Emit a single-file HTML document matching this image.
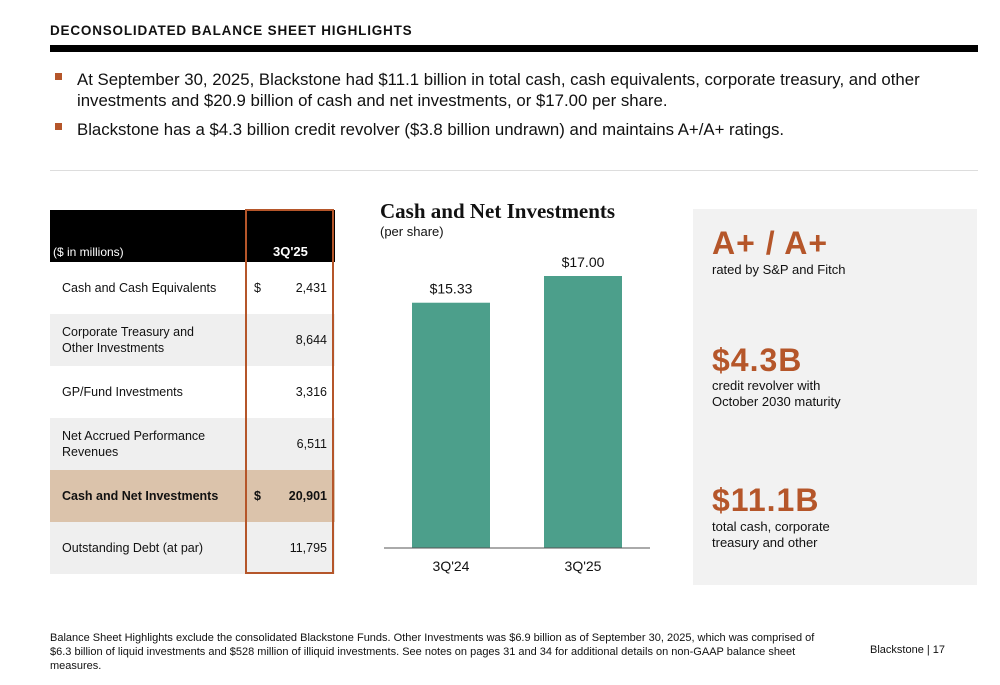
<!DOCTYPE html>
<html><head><meta charset="utf-8"><style>
body{margin:0;width:1000px;height:685px;background:#fff;font-family:"Liberation Sans","DejaVu Sans",sans-serif;color:#111;position:relative;overflow:hidden}
.a{position:absolute}
.row{position:absolute;left:50px;width:285px;height:52px;font-size:12.5px}
.row .l{position:absolute;left:12px;top:0;height:100%;display:flex;align-items:center;line-height:16px}
.row .d{position:absolute;left:204px;top:0;height:100%;display:flex;align-items:center}
.row .v{position:absolute;right:8px;top:0;height:100%;display:flex;align-items:center}
.big{color:#b5562a;font-weight:bold;font-size:32px;letter-spacing:1px}
.sub{font-size:13px;line-height:16px}
</style></head><body>
<div class="a" style="left:50px;top:23px;font-size:13.5px;font-weight:bold;letter-spacing:0.8px">DECONSOLIDATED BALANCE SHEET HIGHLIGHTS</div>
<div class="a" style="left:50px;top:45px;width:928px;height:7px;background:#000"></div>
<div class="a" style="left:55px;top:69px;width:905px;font-size:16.8px;line-height:21px"><span style="position:absolute;left:0;top:4px;width:7px;height:7px;background:#b5562a"></span><div style="margin-left:22px">At September 30, 2025, Blackstone had $11.1 billion in total cash, cash equivalents, corporate treasury, and other investments and $20.9 billion of cash and net investments, or $17.00 per share.</div></div>
<div class="a" style="left:55px;top:119px;width:905px;font-size:16.8px;line-height:21px"><span style="position:absolute;left:0;top:4px;width:7px;height:7px;background:#b5562a"></span><div style="margin-left:22px">Blackstone has a $4.3 billion credit revolver ($3.8 billion undrawn) and maintains A+/A+ ratings.</div></div>
<div class="a" style="left:50px;top:170px;width:928px;height:1px;background:#ddd"></div>

<div>
<div class="a" style="left:50px;top:210px;width:285px;height:52px;background:#000;color:#fff;font-size:12px">
<span class="a" style="left:3px;top:35px">($ in millions)</span><span class="a" style="left:223px;top:34px;font-weight:bold;font-size:13px">3Q'25</span></div>
<div class="row" style="top:262px;background:#fff"><span class="l">Cash and Cash Equivalents</span><span class="d">$</span><span class="v">2,431</span></div>
<div class="row" style="top:314px;background:#efefef"><span class="l">Corporate Treasury and<br>Other Investments</span><span class="v">8,644</span></div>
<div class="row" style="top:366px;background:#fff"><span class="l">GP/Fund Investments</span><span class="v">3,316</span></div>
<div class="row" style="top:418px;background:#efefef"><span class="l">Net Accrued Performance<br>Revenues</span><span class="v">6,511</span></div>
<div class="row" style="top:470px;background:#dbc3ab;font-weight:bold"><span class="l">Cash and Net Investments</span><span class="d">$</span><span class="v">20,901</span></div>
<div class="row" style="top:522px;background:#efefef"><span class="l">Outstanding Debt (at par)</span><span class="v">11,795</span></div>
<div class="a" style="left:245px;top:209px;width:85px;height:361px;border:2px solid #b5562a"></div>
</div>

<div class="a" style="left:380px;top:199px;font-family:'Liberation Serif',serif;font-weight:bold;font-size:21px">Cash and Net Investments</div>
<div class="a" style="left:380px;top:224px;font-size:13px">(per share)</div>
<svg class="a" id="chart" style="left:0;top:0" width="1000" height="685"></svg>

<div class="a" style="left:693px;top:209px;width:284px;height:376px;background:#f2f2f2">
<div class="a big" style="left:19px;top:16px">A+ / A+</div>
<div class="a sub" style="left:19px;top:53px">rated by S&amp;P and Fitch</div>
<div class="a big" style="left:19px;top:133px">$4.3B</div>
<div class="a sub" style="left:19px;top:169px">credit revolver with<br>October 2030 maturity</div>
<div class="a big" style="left:19px;top:273px">$11.1B</div>
<div class="a sub" style="left:19px;top:310px">total cash, corporate<br>treasury and other</div>
</div>

<div class="a" style="left:50px;top:631px;width:776px;font-size:11px;line-height:14px">Balance Sheet Highlights exclude the consolidated Blackstone Funds. Other Investments was $6.9 billion as of September 30, 2025, which was comprised of $6.3 billion of liquid investments and $528 million of illiquid investments. See notes on pages 31 and 34 for additional details on non-GAAP balance sheet measures.</div>
<div class="a" style="left:870px;top:644px;font-size:11px">Blackstone | 17</div>

<script>
const categories=["3Q'24","3Q'25"];
const values=[15.33,17.00];
const valueLabels=["$15.33","$17.00"];
const svg=document.getElementById('chart');
const NS='http://www.w3.org/2000/svg';
const baseY=548, pxPer=16, x0=412, step=132, bw=78;
const y=v=>baseY-v*pxPer;
const xs=i=>x0+i*step;
function mk(t,a){const e=document.createElementNS(NS,t);for(const k in a)e.setAttribute(k,a[k]);svg.appendChild(e);return e;}
categories.forEach((c,i)=>{
 const r=mk('rect',{x:xs(i),y:y(values[i]),width:bw,height:baseY-y(values[i]),fill:'#4c9f8b'});
 
 
 const t=mk('text',{x:xs(i)+bw/2,y:y(values[i])-9,'text-anchor':'middle','font-size':14,'font-family':'Liberation Sans, sans-serif',fill:'#111'});
 t.textContent=valueLabels[i];
 
 
 const l=mk('text',{x:xs(i)+bw/2,y:baseY+23,'text-anchor':'middle','font-size':14,'font-family':'Liberation Sans, sans-serif',fill:'#111'});
 l.textContent=c;
 
 
});
const ax=mk('line',{x1:384,x2:650,y1:baseY,y2:baseY,stroke:'#555','stroke-width':1});


</script>
</body></html>
